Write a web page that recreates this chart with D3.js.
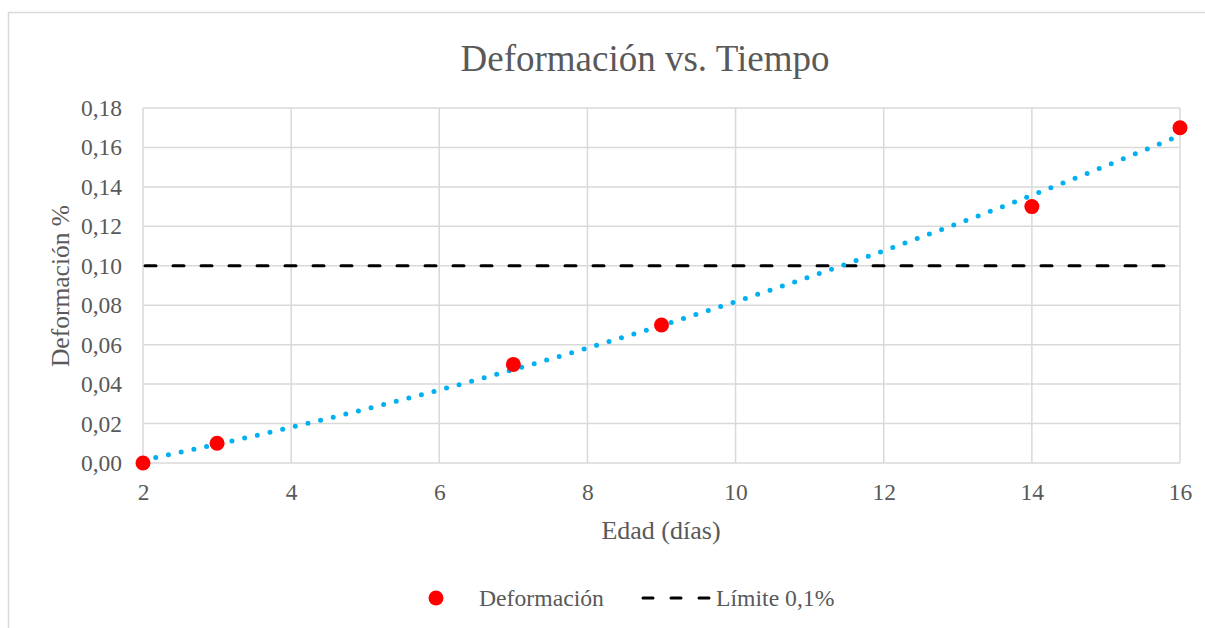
<!DOCTYPE html>
<html><head><meta charset="utf-8">
<script src="https://cdn.jsdelivr.net/npm/d3@7"></script>
<style>body{margin:0;background:#fff}svg{display:block}text{font-family:"Liberation Serif","Times New Roman",serif;fill:#595959}</style>
</head><body><svg id="c" width="1205" height="628"></svg>
<script>
const edad = [2, 3, 7, 9, 14, 16];
const deformacion = [0, 0.01, 0.05, 0.07, 0.13, 0.17];
const limite = 0.10;
const xTicks = [2, 4, 6, 8, 10, 12, 14, 16];
const yTicks = [0, 0.02, 0.04, 0.06, 0.08, 0.10, 0.12, 0.14, 0.16, 0.18];
const title = "Deformación vs. Tiempo";
const xTitle = "Edad (días)";
const yTitle = "Deformación %";
const legendLabels = ["Deformación", "Límite 0,1%"];

const svg = d3.select("#c");
svg.append("rect").attr("x",8.5).attr("y",12.5).attr("width",1210).attr("height",640)
  .attr("fill","#fff").attr("stroke","#d9d9d9").attr("stroke-width",1.5);

const x = d3.scaleLinear().domain([2,16]).range([143,1180]);
const y = d3.scaleLinear().domain([0,0.18]).range([463,108]);
const fmt = d => d.toFixed(2).replace(".", ",");

// gridlines
const g = svg.append("g");
g.selectAll(".vx").data(xTicks).join("line")
  .attr("x1",d=>x(d)).attr("x2",d=>x(d)).attr("y1",y(0)).attr("y2",y(0.18))
  .attr("stroke","#d9d9d9").attr("stroke-width",1.5);
g.selectAll(".hy").data(yTicks).join("line")
  .attr("x1",x(2)).attr("x2",x(16)).attr("y1",d=>y(d)).attr("y2",d=>y(d))
  .attr("stroke","#d9d9d9").attr("stroke-width",1.5);

// axes labels
const xa = svg.append("g").attr("transform",`translate(0,${y(0)})`)
  .call(d3.axisBottom(x).tickValues(xTicks).tickSize(0).tickPadding(20).tickFormat(d=>d));
const ya = svg.append("g").attr("transform",`translate(${x(2)},0)`)
  .call(d3.axisLeft(y).tickValues(yTicks).tickSize(0).tickPadding(21).tickFormat(fmt));
[xa, ya].forEach(a => { a.select(".domain").remove();
  a.selectAll("text").style("font-size","23.5px").style("fill","#595959"); });

// limit line
svg.append("line").attr("x1",x(2)).attr("x2",x(16)).attr("y1",y(limite)).attr("y2",y(limite))
  .attr("stroke","#000").attr("stroke-width",3).attr("stroke-dasharray","11 17").attr("stroke-linecap","round")
  .attr("stroke-dashoffset",-2);

// polynomial (order 2) trendline computed from data by least squares
function polyfit(xs, ys) {
  let S = Array.from({length:5},(_, k)=>d3.sum(xs, v=>Math.pow(v,k)));
  let T = Array.from({length:3},(_, k)=>d3.sum(xs, (v,i)=>Math.pow(v,k)*ys[i]));
  let A = [[S[0],S[1],S[2],T[0]],[S[1],S[2],S[3],T[1]],[S[2],S[3],S[4],T[2]]];
  for (let i=0;i<3;i++){ for(let j=i+1;j<3;j++){ const f=A[j][i]/A[i][i]; for(let k=i;k<4;k++) A[j][k]-=f*A[i][k]; } }
  const c=[0,0,0];
  for (let i=2;i>=0;i--){ let s=A[i][3]; for(let k=i+1;k<3;k++) s-=A[i][k]*c[k]; c[i]=s/A[i][i]; }
  return c;
}
const c = polyfit(edad, deformacion);
const trendX = d3.range(0, 141).map(i => 2 + i*0.1);
const line = d3.line().x(d=>x(d)).y(d=>y(c[0]+c[1]*d+c[2]*d*d));
svg.append("path").datum(trendX).attr("d",line).attr("fill","none")
  .attr("stroke","#00b0f0").attr("stroke-width",5).attr("stroke-linecap","round").attr("stroke-dasharray","0 13");

// markers
svg.selectAll(".pt").data(edad).join("circle")
  .attr("cx",d=>x(d)).attr("cy",(d,i)=>y(deformacion[i])).attr("r",7.5).attr("fill","#ff0000");

// titles
svg.append("text").attr("x",645).attr("y",71).attr("text-anchor","middle").style("font-size","37px").text(title);
svg.append("text").attr("x",661).attr("y",539).attr("text-anchor","middle").style("font-size","26px").text(xTitle);
svg.append("text").attr("transform","translate(69,286) rotate(-90)").attr("text-anchor","middle").style("font-size","25.5px").text(yTitle);

// legend
svg.append("circle").attr("cx",436).attr("cy",598).attr("r",7.5).attr("fill","#ff0000");
svg.append("text").attr("x",479).attr("y",606).style("font-size","23.7px").text(legendLabels[0]);
svg.append("line").attr("x1",643).attr("x2",709).attr("y1",598).attr("y2",598)
  .attr("stroke","#000").attr("stroke-width",3).attr("stroke-dasharray","10 18").attr("stroke-linecap","round");
svg.append("text").attr("x",716).attr("y",606).style("font-size","23.7px").text(legendLabels[1]);
</script></body></html>
